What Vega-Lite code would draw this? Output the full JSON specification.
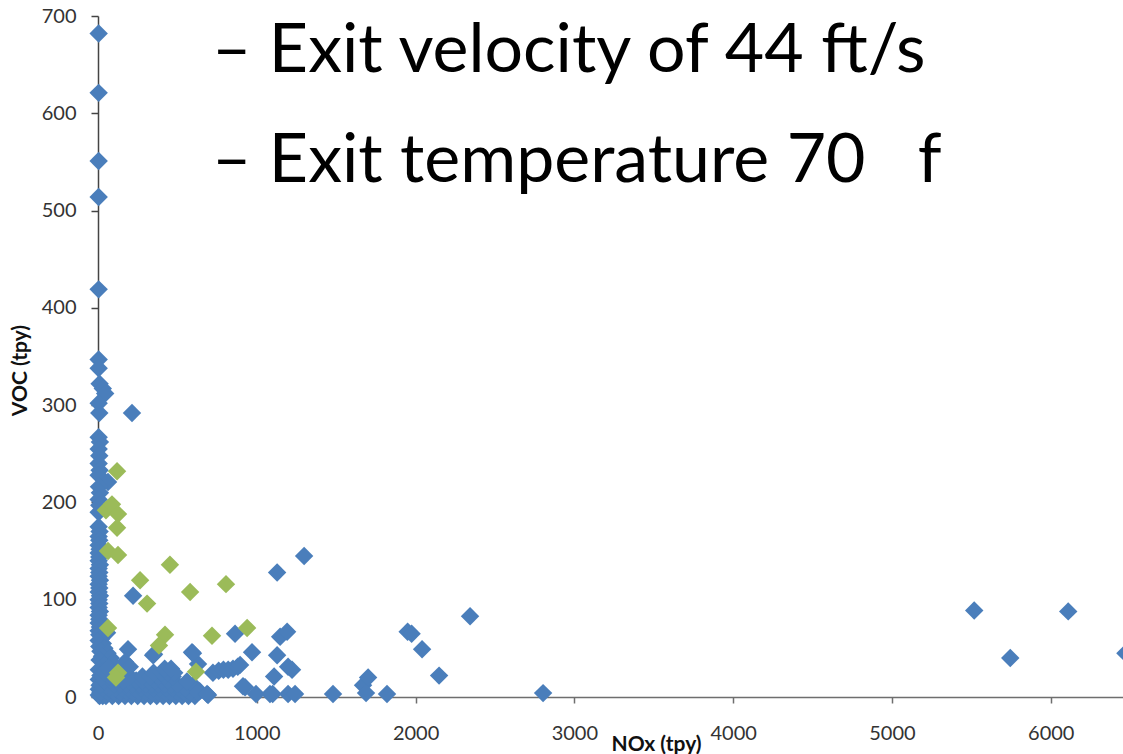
{
  "$schema": "https://vega.github.io/schema/vega-lite/v6.json",
  "width": 1025,
  "height": 681,
  "autosize": {"type": "none"},
  "padding": {"left": 98, "top": 16, "right": 0, "bottom": 57},
  "background": "white",
  "config": {"view": {"stroke": null}, "font": "Lato"},
  "datasets": {
    "pts": [
      {"nox":4,"voc":682,"s":"A"},{"nox":4,"voc":621,"s":"A"},{"nox":4,"voc":551,"s":"A"},{"nox":4,"voc":514,"s":"A"},{"nox":4,"voc":419,"s":"A"},
      {"nox":4,"voc":347,"s":"A"},{"nox":4,"voc":338,"s":"A"},{"nox":10,"voc":322,"s":"A"},{"nox":30,"voc":317,"s":"A"},{"nox":45,"voc":312,"s":"A"},
      {"nox":4,"voc":302,"s":"A"},{"nox":8,"voc":292,"s":"A"},{"nox":214,"voc":292,"s":"A"},
      {"nox":4,"voc":267,"s":"A"},{"nox":12,"voc":262,"s":"A"},{"nox":4,"voc":255,"s":"A"},{"nox":8,"voc":248,"s":"A"},{"nox":4,"voc":240,"s":"A"},
      {"nox":10,"voc":233,"s":"A"},{"nox":4,"voc":228,"s":"A"},{"nox":63,"voc":221,"s":"A"},{"nox":6,"voc":216,"s":"A"},{"nox":12,"voc":210,"s":"A"},
      {"nox":4,"voc":203,"s":"A"},{"nox":8,"voc":197,"s":"A"},{"nox":4,"voc":190,"s":"A"},
      {"nox":4,"voc":175,"s":"A"},{"nox":10,"voc":170,"s":"A"},{"nox":4,"voc":165,"s":"A"},{"nox":8,"voc":161,"s":"A"},{"nox":4,"voc":156,"s":"A"},
      {"nox":10,"voc":152,"s":"A"},{"nox":4,"voc":148,"s":"A"},{"nox":8,"voc":144,"s":"A"},{"nox":4,"voc":140,"s":"A"},{"nox":12,"voc":136,"s":"A"},
      {"nox":4,"voc":132,"s":"A"},{"nox":8,"voc":128,"s":"A"},{"nox":4,"voc":124,"s":"A"},{"nox":12,"voc":120,"s":"A"},{"nox":4,"voc":116,"s":"A"},
      {"nox":8,"voc":112,"s":"A"},{"nox":4,"voc":108,"s":"A"},{"nox":12,"voc":104,"s":"A"},{"nox":4,"voc":100,"s":"A"},{"nox":8,"voc":96,"s":"A"},
      {"nox":4,"voc":92,"s":"A"},{"nox":12,"voc":88,"s":"A"},{"nox":4,"voc":84,"s":"A"},{"nox":8,"voc":80,"s":"A"},{"nox":4,"voc":76,"s":"A"},
      {"nox":12,"voc":72,"s":"A"},{"nox":4,"voc":68,"s":"A"},{"nox":8,"voc":64,"s":"A"},{"nox":20,"voc":60,"s":"A"},{"nox":4,"voc":58,"s":"A"},
      {"nox":30,"voc":55,"s":"A"},{"nox":8,"voc":52,"s":"A"},{"nox":40,"voc":50,"s":"A"},{"nox":15,"voc":47,"s":"A"},{"nox":60,"voc":45,"s":"A"},
      {"nox":25,"voc":42,"s":"A"},{"nox":80,"voc":40,"s":"A"},{"nox":10,"voc":38,"s":"A"},{"nox":90,"voc":35,"s":"A"},{"nox":40,"voc":33,"s":"A"},
      {"nox":70,"voc":30,"s":"A"},{"nox":5,"voc":28,"s":"A"},{"nox":30,"voc":26,"s":"A"},{"nox":50,"voc":24,"s":"A"},{"nox":15,"voc":22,"s":"A"},
      {"nox":5,"voc":18,"s":"A"},{"nox":25,"voc":15,"s":"A"},{"nox":10,"voc":12,"s":"A"},{"nox":5,"voc":8,"s":"A"},{"nox":15,"voc":5,"s":"A"},
      {"nox":5,"voc":2,"s":"A"},{"nox":30,"voc":1,"s":"A"},
      {"nox":10,"voc":1,"s":"A"},{"nox":50,"voc":1,"s":"A"},{"nox":90,"voc":1,"s":"A"},{"nox":130,"voc":1,"s":"A"},{"nox":170,"voc":1,"s":"A"},
      {"nox":210,"voc":1,"s":"A"},{"nox":250,"voc":1,"s":"A"},{"nox":290,"voc":1,"s":"A"},{"nox":330,"voc":1,"s":"A"},{"nox":370,"voc":1,"s":"A"},
      {"nox":410,"voc":1,"s":"A"},{"nox":450,"voc":1,"s":"A"},{"nox":490,"voc":1,"s":"A"},{"nox":530,"voc":1,"s":"A"},{"nox":570,"voc":1,"s":"A"},{"nox":610,"voc":1,"s":"A"},
      {"nox":20,"voc":5,"s":"A"},{"nox":60,"voc":5,"s":"A"},{"nox":100,"voc":5,"s":"A"},{"nox":140,"voc":5,"s":"A"},{"nox":180,"voc":5,"s":"A"},
      {"nox":220,"voc":5,"s":"A"},{"nox":260,"voc":5,"s":"A"},{"nox":300,"voc":5,"s":"A"},{"nox":340,"voc":5,"s":"A"},{"nox":380,"voc":5,"s":"A"},
      {"nox":420,"voc":5,"s":"A"},{"nox":460,"voc":5,"s":"A"},{"nox":500,"voc":5,"s":"A"},{"nox":540,"voc":5,"s":"A"},{"nox":580,"voc":5,"s":"A"},
      {"nox":30,"voc":9,"s":"A"},{"nox":70,"voc":9,"s":"A"},{"nox":110,"voc":9,"s":"A"},{"nox":150,"voc":9,"s":"A"},{"nox":190,"voc":9,"s":"A"},
      {"nox":230,"voc":9,"s":"A"},{"nox":270,"voc":9,"s":"A"},{"nox":310,"voc":9,"s":"A"},{"nox":350,"voc":9,"s":"A"},{"nox":390,"voc":9,"s":"A"},
      {"nox":430,"voc":9,"s":"A"},{"nox":470,"voc":9,"s":"A"},{"nox":510,"voc":9,"s":"A"},{"nox":550,"voc":9,"s":"A"},
      {"nox":20,"voc":13,"s":"A"},{"nox":60,"voc":13,"s":"A"},{"nox":100,"voc":13,"s":"A"},{"nox":140,"voc":13,"s":"A"},{"nox":180,"voc":13,"s":"A"},
      {"nox":220,"voc":13,"s":"A"},{"nox":260,"voc":13,"s":"A"},{"nox":300,"voc":13,"s":"A"},{"nox":340,"voc":13,"s":"A"},{"nox":380,"voc":13,"s":"A"},
      {"nox":420,"voc":13,"s":"A"},{"nox":460,"voc":13,"s":"A"},{"nox":500,"voc":13,"s":"A"},
      {"nox":40,"voc":17,"s":"A"},{"nox":80,"voc":17,"s":"A"},{"nox":120,"voc":17,"s":"A"},{"nox":160,"voc":17,"s":"A"},{"nox":200,"voc":17,"s":"A"},
      {"nox":240,"voc":17,"s":"A"},{"nox":280,"voc":17,"s":"A"},{"nox":320,"voc":17,"s":"A"},{"nox":360,"voc":17,"s":"A"},{"nox":400,"voc":17,"s":"A"},{"nox":440,"voc":17,"s":"A"},
      {"nox":30,"voc":21,"s":"A"},{"nox":70,"voc":21,"s":"A"},{"nox":110,"voc":21,"s":"A"},{"nox":200,"voc":21,"s":"A"},{"nox":280,"voc":21,"s":"A"},
      {"nox":330,"voc":21,"s":"A"},{"nox":380,"voc":21,"s":"A"},{"nox":420,"voc":21,"s":"A"},{"nox":470,"voc":21,"s":"A"},
      {"nox":40,"voc":25,"s":"A"},{"nox":90,"voc":25,"s":"A"},{"nox":350,"voc":25,"s":"A"},{"nox":400,"voc":25,"s":"A"},{"nox":440,"voc":25,"s":"A"},{"nox":480,"voc":25,"s":"A"},
      {"nox":60,"voc":29,"s":"A"},{"nox":420,"voc":29,"s":"A"},{"nox":460,"voc":29,"s":"A"},
      {"nox":640,"voc":6,"s":"A"},{"nox":600,"voc":12,"s":"A"},{"nox":560,"voc":16,"s":"A"},{"nox":630,"voc":5,"s":"A"},
      {"nox":221,"voc":104,"s":"A"},{"nox":189,"voc":49,"s":"A"},{"nox":347,"voc":43,"s":"A"},{"nox":592,"voc":46,"s":"A"},{"nox":630,"voc":34,"s":"A"},
      {"nox":863,"voc":65,"s":"A"},{"nox":926,"voc":10,"s":"A"},{"nox":170,"voc":36,"s":"A"},{"nox":200,"voc":31,"s":"A"},{"nox":57,"voc":66,"s":"A"},{"nox":693,"voc":2,"s":"A"},
      {"nox":1298,"voc":145,"s":"A"},{"nox":1128,"voc":128,"s":"A"},{"nox":970,"voc":46,"s":"A"},{"nox":1128,"voc":43,"s":"A"},{"nox":1147,"voc":62,"s":"A"},
      {"nox":1191,"voc":67,"s":"A"},{"nox":1197,"voc":31,"s":"A"},{"nox":1222,"voc":28,"s":"A"},{"nox":1109,"voc":21,"s":"A"},{"nox":913,"voc":11,"s":"A"},
      {"nox":724,"voc":25,"s":"A"},{"nox":760,"voc":27,"s":"A"},{"nox":790,"voc":28,"s":"A"},{"nox":820,"voc":28,"s":"A"},{"nox":850,"voc":29,"s":"A"},{"nox":880,"voc":31,"s":"A"},{"nox":895,"voc":33,"s":"A"},
      {"nox":995,"voc":3,"s":"A"},{"nox":1083,"voc":3,"s":"A"},{"nox":1100,"voc":3,"s":"A"},{"nox":1197,"voc":3,"s":"A"},{"nox":1241,"voc":3,"s":"A"},
      {"nox":1480,"voc":3,"s":"A"},{"nox":1669,"voc":12,"s":"A"},{"nox":1701,"voc":20,"s":"A"},{"nox":1688,"voc":4,"s":"A"},{"nox":1820,"voc":3,"s":"A"},
      {"nox":1950,"voc":67,"s":"A"},{"nox":1975,"voc":65,"s":"A"},{"nox":2041,"voc":49,"s":"A"},{"nox":2148,"voc":22,"s":"A"},{"nox":2343,"voc":83,"s":"A"},
      {"nox":687,"voc":3,"s":"A"},{"nox":2803,"voc":4,"s":"A"},{"nox":5518,"voc":89,"s":"A"},{"nox":5745,"voc":40,"s":"A"},{"nox":6110,"voc":88,"s":"A"},{"nox":6470,"voc":45,"s":"A"},
      {"nox":353,"voc":44,"s":"A"},{"nox":598,"voc":45,"s":"A"},
      {"nox":120,"voc":232,"s":"B"},{"nox":50,"voc":192,"s":"B"},{"nox":88,"voc":198,"s":"B"},{"nox":126,"voc":188,"s":"B"},{"nox":120,"voc":174,"s":"B"},
      {"nox":63,"voc":150,"s":"B"},{"nox":126,"voc":146,"s":"B"},{"nox":453,"voc":136,"s":"B"},{"nox":265,"voc":120,"s":"B"},{"nox":580,"voc":108,"s":"B"},
      {"nox":806,"voc":116,"s":"B"},{"nox":309,"voc":96,"s":"B"},{"nox":63,"voc":71,"s":"B"},{"nox":422,"voc":64,"s":"B"},{"nox":384,"voc":53,"s":"B"},
      {"nox":718,"voc":63,"s":"B"},{"nox":939,"voc":71,"s":"B"},{"nox":126,"voc":25,"s":"B"},{"nox":113,"voc":20,"s":"B"},{"nox":617,"voc":26,"s":"B"}
    ],
    "notes": [
      {"nox": 718, "voc": 642, "label": "– Exit velocity of 44 ft/s"},
      {"nox": 718, "voc": 529, "label": "– Exit temperature 70\u00a0\u00a0\u00a0f"}
    ]
  },
  "layer": [
    {
      "data": {"name": "pts"},
      "mark": {"type": "point", "shape": "diamond", "filled": true, "opacity": 1, "size": 340},
      "encoding": {
        "x": {
          "field": "nox", "type": "quantitative",
          "scale": {"domain": [0, 6455], "nice": false, "zero": true},
          "axis": {
            "title": "NOx (tpy)", "values": [0,1000,2000,3000,4000,5000,6000], "format": "d", "grid": false,
            "domainColor": "#6e6e6e", "domainWidth": 1.5, "tickColor": "#6e6e6e", "tickSize": 6, "tickWidth": 1.5,
            "labelFont": "Lato", "labelFontSize": 20, "labelColor": "#333333", "labelPadding": 20,
            "labelFlush": false, "labelOverlap": false,
            "titleFont": "Lato", "titleFontSize": 21, "titleFontWeight": "bold", "titleColor": "#111111",
            "titleX": 558, "titleY": 53, "titleBaseline": "alphabetic", "titleAlign": "center"
          }
        },
        "y": {
          "field": "voc", "type": "quantitative",
          "scale": {"domain": [0, 700], "nice": false},
          "axis": {
            "title": "VOC (tpy)", "values": [0,100,200,300,400,500,600,700], "format": "d", "grid": false,
            "domainColor": "#444444", "domainWidth": 1.5, "tickColor": "#444444", "tickSize": 7, "tickWidth": 1.5,
            "labelFont": "Lato", "labelFontSize": 20, "labelColor": "#333333", "labelPadding": 15,
            "labelFlush": false, "labelOverlap": false,
            "titleFont": "Lato", "titleFontSize": 21, "titleFontWeight": "bold", "titleColor": "#111111",
            "titleX": -78, "titleY": 354, "titleAngle": 270, "titleBaseline": "middle", "titleAlign": "center"
          }
        },
        "color": {
          "field": "s", "type": "nominal",
          "scale": {"domain": ["A", "B"], "range": ["#4a7ebb", "#9bbb59"]},
          "legend": null
        },
        "order": {"field": "s", "type": "nominal"}
      }
    },
    {
      "data": {"name": "notes"},
      "mark": {"type": "text", "align": "left", "baseline": "alphabetic", "font": "Lato", "fontSize": 68, "color": "#000000"},
      "encoding": {
        "x": {"field": "nox", "type": "quantitative"},
        "y": {"field": "voc", "type": "quantitative"},
        "text": {"field": "label"}
      }
    }
  ]
}
